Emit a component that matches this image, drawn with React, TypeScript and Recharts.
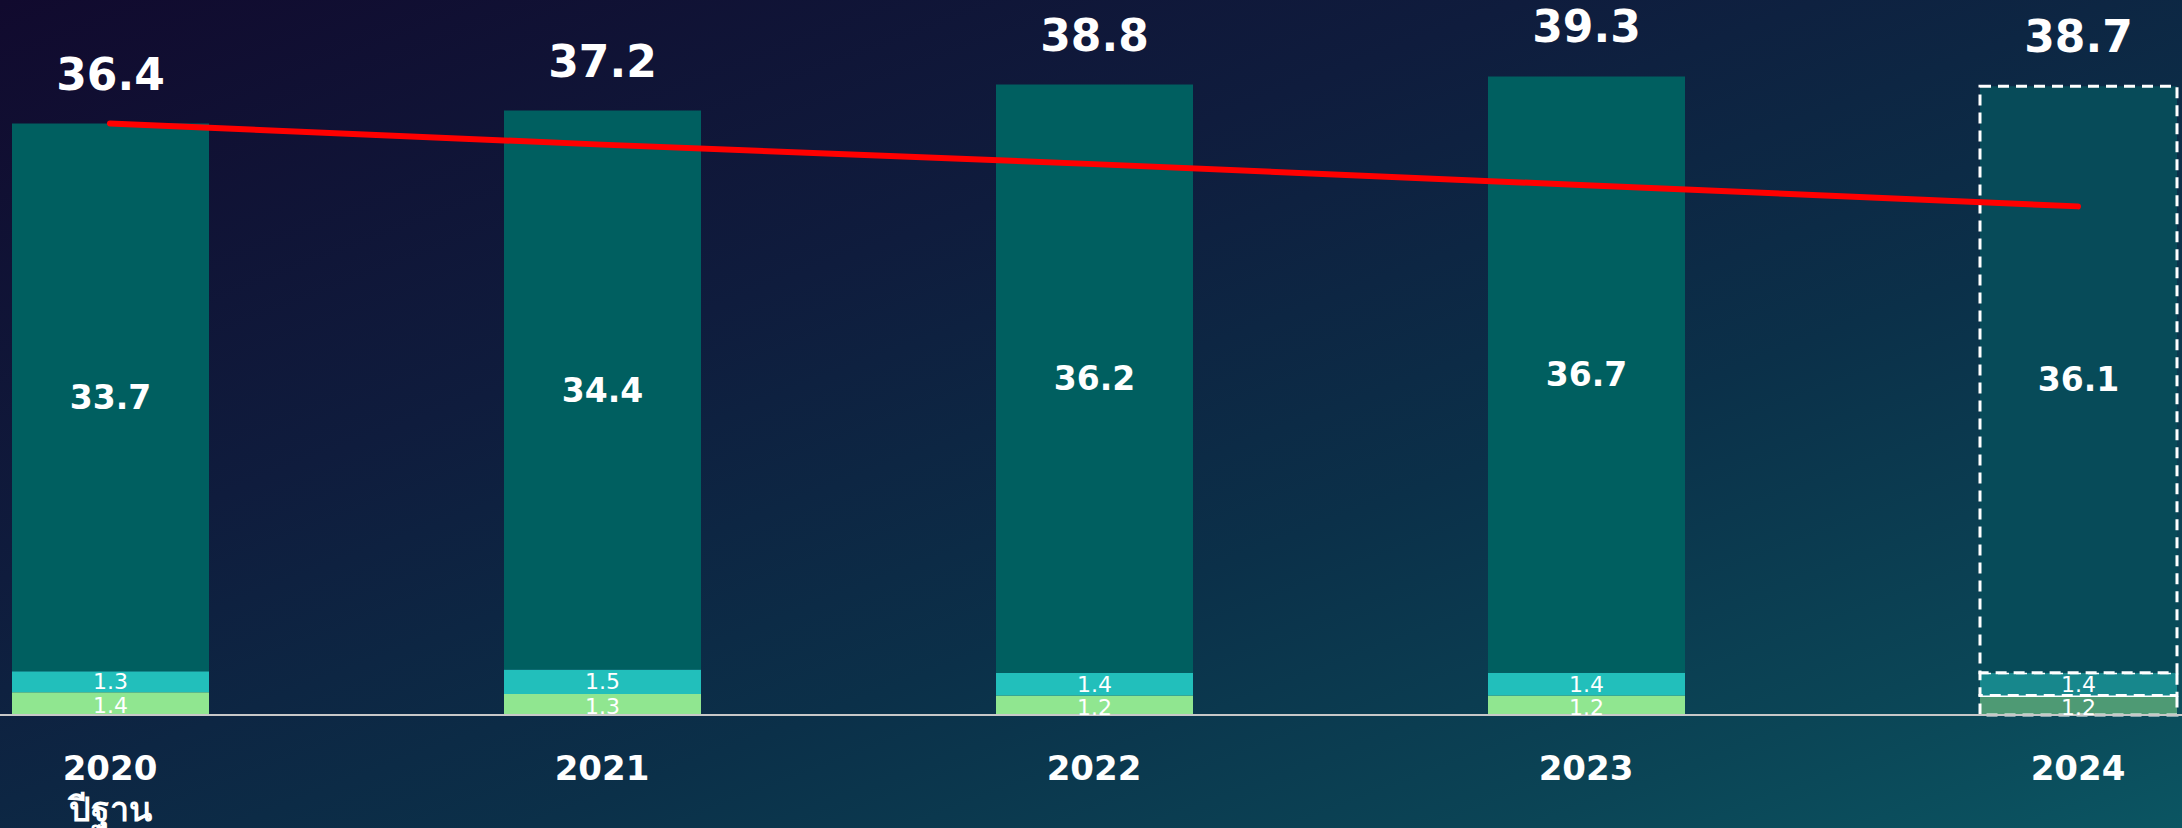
import React from 'react';
import { ComposedChart, Bar, Line, XAxis, YAxis, Cell, LabelList } from 'recharts';

const categories = ['2020', '2021', '2022', '2023', '2024'];
const subLabels = ['ปีฐาน', '', '', '', ''];
const greenValues = [1.4, 1.3, 1.2, 1.2, 1.2];
const cyanValues = [1.3, 1.5, 1.4, 1.4, 1.4];
const mainValues = [33.7, 34.4, 36.2, 36.7, 36.1];
const totalValues = [36.4, 37.2, 38.8, 39.3, 38.7];
const targetValues = [36.4, 35.1, 33.9, 32.6, 31.3];
const projectedIndex = 4;

const data = categories.map((c, i) => ({
  year: c,
  sub: subLabels[i],
  green: greenValues[i],
  cyan: cyanValues[i],
  main: mainValues[i],
  total: totalValues[i],
  target: targetValues[i],
}));

const FONT = '"DejaVu Sans", "Noto Sans", sans-serif';

const solid = { main: '#005f60', cyan: '#22bfbb', green: '#90e690' };
const projected = { main: '#074b59', cyan: '#17878c', green: '#4e9a74' };

const TotalLabel = (props: any) => {
  const { x, y, width, value } = props;
  return (
    <text x={x + width / 2} y={y - 34} textAnchor="middle" fill="#ffffff" fontSize={44} fontWeight="bold" fontFamily={FONT}>
      {Number(value).toFixed(1)}
    </text>
  );
};

const YearTick = (props: any) => {
  const { x, y, payload, index } = props;
  const sub = subLabels[index] || subLabels[categories.indexOf(payload.value)];
  return (
    <g>
      <text x={x} y={y + 65} textAnchor="middle" fill="#ffffff" fontSize={34} fontWeight="bold" fontFamily={FONT}>
        {payload.value}
      </text>
      {sub ? (
        <text x={x} y={y + 106} textAnchor="middle" fill="#ffffff" fontSize={34} fontWeight="bold" fontFamily={FONT}>
          {sub}
        </text>
      ) : null}
    </g>
  );
};

const cellProps = (i: number, key: 'main' | 'cyan' | 'green') =>
  i === projectedIndex
    ? { fill: projected[key], stroke: '#ffffff', strokeWidth: 3, strokeDasharray: '11 7' }
    : { fill: solid[key] };

export default function App() {
  return (
    <div
      style={{
        position: 'absolute',
        left: 0,
        top: 0,
        width: 2182,
        height: 828,
        overflow: 'hidden',
        background: 'linear-gradient(to bottom right, #110a2e 0%, #0f1c3d 35%, #0b3049 62%, #0b4556 85%, #0b5562 100%)',
      }}
    >
      <div style={{ position: 'absolute', left: -136, top: 0 }}>
        <ComposedChart width={2460} height={828} data={data} margin={{ top: 0, right: 0, bottom: 0, left: 0 }}>
          <XAxis
            dataKey="year"
            height={113}
            tickSize={0}
            tickMargin={0}
            axisLine={{ stroke: '#c8c8c8', strokeWidth: 2 }}
            tickLine={false}
            tick={<YearTick />}
            interval={0}
          />
          <YAxis hide domain={[0, 44]} />
          <Bar dataKey="green" stackId="a" barSize={197} isAnimationActive={false}>
            {data.map((_, i) => (
              <Cell key={i} {...cellProps(i, 'green')} />
            ))}
            <LabelList dataKey="green" position="center" fill="#ffffff" fontSize={22} fontFamily={FONT} dy={2} />
          </Bar>
          <Bar dataKey="cyan" stackId="a" barSize={197} isAnimationActive={false}>
            {data.map((_, i) => (
              <Cell key={i} {...cellProps(i, 'cyan')} />
            ))}
            <LabelList dataKey="cyan" position="center" fill="#ffffff" fontSize={22} fontFamily={FONT} />
          </Bar>
          <Bar dataKey="main" stackId="a" barSize={197} isAnimationActive={false}>
            {data.map((_, i) => (
              <Cell key={i} {...cellProps(i, 'main')} />
            ))}
            <LabelList dataKey="main" position="center" fill="#ffffff" fontSize={33} fontWeight="bold" fontFamily={FONT} />
            <LabelList dataKey="total" content={<TotalLabel />} />
          </Bar>
          <Line
            dataKey="target"
            type="linear"
            stroke="#ff0000"
            strokeWidth={6}
            strokeLinecap="round"
            dot={false}
            activeDot={false}
            isAnimationActive={false}
          />
        </ComposedChart>
      </div>
    </div>
  );
}
